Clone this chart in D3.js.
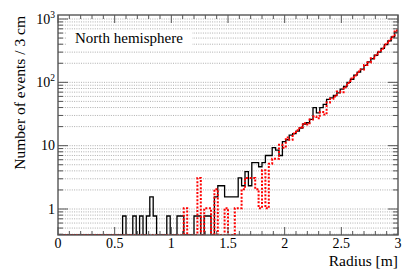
<!DOCTYPE html>
<html><head><meta charset="utf-8">
<script src="https://cdn.jsdelivr.net/npm/d3@7"></script>
<style>body{margin:0;background:#fff}svg{display:block}
text{font-family:"Liberation Serif","Times New Roman",Times,"DejaVu Serif","Noto Serif",serif;}</style>
</head><body>
<svg id="c" width="416" height="279"></svg>
<script>
const binWidth = 0.03;
const binStart = 0;
const blackCounts = [
0,0,0,0,0,0,0,0,0,0,
0,0,0,0,0,0,0,0,0,0.775,
0,0,0.775,0,0.775,0,0.775,1.55,0.775,0,
0,0,0.775,0,0,0.775,0.775,0,0,0,
0.775,0.775,0,0.775,0.775,0,1.55,2.33,2.33,1.55,
1.55,1.55,1.55,3.1,2.33,3.9,2.33,5.4,5.4,4.65,
5.4,7.0,7.0,9.3,8.5,7.0,11.6,12.4,14.7,15.5,
17,19,22,23,26,40,33,40,45,54,
57,62,68,78,86,100,112,130,145,162,
185,210,236,268,300,345,395,450,520,620
];
const redCounts = [
0,0,0,0,0,0,0,0,0,0,
0,0,0,0,0,0,0,0,0,0,
0,0,0,0,0,0,0,0,0,0,
0,0,0,0,0,0,0,1.03,0,0,
0,3.1,0,1.03,1.03,0,2.06,0,0,1.03,
0,0,1.03,1.03,2.06,3.1,3.1,3.1,2.06,1.03,
4.1,1.03,5.2,6.2,6.2,10.3,9.3,13.4,12.4,15.5,
17.5,19.6,22.7,21.6,25.8,29,27,34,31,48,
55,60,72,70,84,98,115,128,148,160,
188,205,240,265,305,340,400,455,525,660
];
const xTickValues = [0,0.5,1,1.5,2,2.5,3];
const xTickLabels = ["0","0.5","1","1.5","2","2.5","3"];
const yMajorValues = [1,10,100,1000];
const yTickLabels = [["1",""],["10",""],["10","2"],["10","3"]];
const labelTitle = "North hemisphere";
const xTitle = "Radius [m]";
const yTitle = "Number of events / 3 cm";

const L=58,R=398,T=15,B=235;
const svg=d3.select("#c");
const x=d3.scaleLinear().domain([0,3]).range([L,R]);
const y=d3.scaleLog().domain([0.3886,1157]).range([B,T]);
const ymin=y.domain()[0];
const axisCol="#555";

// gridlines
const gridVals=[];
[0.1,1,10,100,1000].forEach(d=>{for(let k=1;k<=9;k++){const v=k*d;if(v>=ymin&&v<=1157)gridVals.push(v);}});
svg.append("g").selectAll("line").data(gridVals).join("line")
 .attr("x1",L).attr("x2",R).attr("y1",d=>y(d)).attr("y2",d=>y(d))
 .attr("stroke","#9a9a9a").attr("stroke-width",0.8).attr("stroke-dasharray","1,1.3");

// label box
svg.append("rect").attr("x",66).attr("y",31).attr("width",126).attr("height",17).attr("fill","#fff");
svg.append("text").attr("x",75).attr("y",43).attr("font-size",15).text(labelTitle);

// clip
svg.append("clipPath").attr("id","clip").append("rect").attr("x",L).attr("y",T-1).attr("width",R-L).attr("height",B-T+1);

function histPoints(vals){
  const pts=[];
  vals.forEach((v,i)=>{
    const vv=Math.max(v,ymin);
    const x0=binStart+i*binWidth, x1=binStart+(i+1)*binWidth;
    pts.push([x0,vv]);pts.push([x1,vv]);
  });
  return pts;
}
const line=d3.line().x(d=>x(d[0])).y(d=>y(d[1]));
const hg=svg.append("g").attr("clip-path","url(#clip)");
hg.append("path").attr("d",line(histPoints(blackCounts))).attr("fill","none").attr("stroke","#000").attr("stroke-width",1.3);
hg.append("path").attr("d",line(histPoints(redCounts))).attr("fill","none").attr("stroke","#ff0000").attr("stroke-width",2).attr("stroke-dasharray","2,1.6");

// frame
svg.append("rect").attr("x",L).attr("y",T).attr("width",R-L).attr("height",B-T).attr("fill","none").attr("stroke",axisCol).attr("stroke-width",1.4);

// y ticks
const yMinor=gridVals.filter(v=>!yMajorValues.includes(v));
const tg=svg.append("g").attr("stroke",axisCol).attr("stroke-width",1);
tg.selectAll(".ymaj").data(yMajorValues).join("line").attr("x1",L).attr("x2",L+10).attr("y1",d=>y(d)).attr("y2",d=>y(d));
tg.selectAll(".ymin").data(yMinor).join("line").attr("x1",L).attr("x2",L+5).attr("y1",d=>y(d)).attr("y2",d=>y(d));
tg.selectAll(".ymajr").data(yMajorValues).join("line").attr("x1",R).attr("x2",R-10).attr("y1",d=>y(d)).attr("y2",d=>y(d));
tg.selectAll(".yminr").data(yMinor).join("line").attr("x1",R).attr("x2",R-5).attr("y1",d=>y(d)).attr("y2",d=>y(d));
// x ticks
const xMinor=d3.range(0,31).map(i=>i/10).filter(v=>Math.abs(v*2-Math.round(v*2))>1e-6);
[B,T].forEach((yy,j)=>{
  const s=j===0?-1:1;
  tg.append("g").selectAll("line").data(xTickValues).join("line").attr("x1",d=>x(d)).attr("x2",d=>x(d)).attr("y1",yy).attr("y2",yy+s*8);
  tg.append("g").selectAll("line").data(xMinor).join("line").attr("x1",d=>x(d)).attr("x2",d=>x(d)).attr("y1",yy).attr("y2",yy+s*4);
});

// y labels
const yl=svg.append("g").attr("font-size",14).attr("fill","#000");
yMajorValues.forEach((v,i)=>{
  const [base,sup]=yTickLabels[i];
  const t=yl.append("text").attr("x",55).attr("y",y(v)+4.7).attr("text-anchor","end");
  t.append("tspan").text(base);
  if(sup){t.append("tspan").attr("font-size",9.5).attr("dy",-6).text(sup);}
});
// x labels
svg.append("g").attr("font-size",14).selectAll("text").data(xTickValues).join("text")
 .attr("x",d=>x(d)).attr("y",248).attr("text-anchor","middle").text((d,i)=>xTickLabels[i]);

// titles
svg.append("text").attr("x",R).attr("y",266).attr("text-anchor","end").attr("font-size",15.5).text(xTitle);
svg.append("text").attr("transform","translate(25,16) rotate(-90)").attr("text-anchor","end").attr("font-size",15.5).text(yTitle);
</script>
</body></html>
